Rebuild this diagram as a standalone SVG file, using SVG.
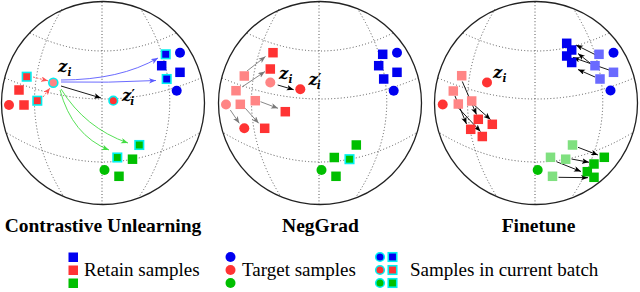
<svg xmlns="http://www.w3.org/2000/svg" xmlns:xlink="http://www.w3.org/1999/xlink" width="640" height="292" viewBox="0 0 640 292">
<style>
.grid{fill:none;stroke:#555;stroke-width:1;stroke-dasharray:1 2.2}
.outline{fill:none;stroke:#222;stroke-width:1.3}
.r{fill:#ff3333}.p{fill:#ff8585}.b{fill:#0000f0}.lb{fill:#6a6aff}.g{fill:#00bf00}.lg{fill:#80e080}
.bt{stroke:#00f0f0;stroke-width:1.6}
.ar{fill:none;stroke-width:0.9}
.k{stroke:#000}.gr{stroke:#7a7a7a}.bl{stroke:#5a5aff}.gn{stroke:#44dd44}.rd{stroke:#ff5555;stroke-dasharray:2 1.5}
.tt{font-family:"Liberation Serif","DejaVu Serif",serif}
.title{font-size:19.5px;font-weight:bold;text-anchor:middle}
.leg{font-size:19px}
.m{font-family:"DejaVu Serif","Liberation Serif",serif;font-style:italic;font-weight:bold;font-size:16.5px}
.s{font-family:"DejaVu Serif","Liberation Serif",serif;font-style:italic;font-weight:bold;font-size:10.5px}
.pr{font-family:"DejaVu Sans","Liberation Sans",sans-serif;font-style:normal;font-weight:bold;font-size:13px}
</style>
<defs>
<marker id="hk" markerUnits="userSpaceOnUse" markerWidth="8" markerHeight="6" refX="7" refY="2.75" orient="auto"><path d="M0,0 L7,2.75 L0,5.5 L1.8,2.75 z" fill="#000"/></marker>
<marker id="hg" markerUnits="userSpaceOnUse" markerWidth="8" markerHeight="6" refX="7" refY="2.75" orient="auto"><path d="M0,0 L7,2.75 L0,5.5 L1.8,2.75 z" fill="#7a7a7a"/></marker>
<marker id="hb" markerUnits="userSpaceOnUse" markerWidth="8" markerHeight="6" refX="7" refY="2.75" orient="auto"><path d="M0,0 L7,2.75 L0,5.5 L1.8,2.75 z" fill="#5a5aff"/></marker>
<marker id="hn" markerUnits="userSpaceOnUse" markerWidth="8" markerHeight="6" refX="7" refY="2.75" orient="auto"><path d="M0,0 L7,2.75 L0,5.5 L1.8,2.75 z" fill="#44dd44"/></marker>
<marker id="hr" markerUnits="userSpaceOnUse" markerWidth="8" markerHeight="6" refX="7" refY="2.75" orient="auto"><path d="M0,0 L7,2.75 L0,5.5 L1.8,2.75 z" fill="#ff5555"/></marker>
<g id="sphere">
<path class="grid" d="M-1,-101 V101"/>
<path class="grid" d="M-41,-94 Q-97,0 -39,94"/>
<path class="grid" d="M37,-95 Q97,0 36,94"/>
<path class="grid" d="M-73,-70 Q0,-34 73,-70"/>
<path class="grid" d="M-98,-25 Q0,17 98,-25"/>
<path class="grid" d="M-96,30 Q0,88 96,30"/>
<circle class="outline" cx="0" cy="0" r="101.5"/>
</g>
</defs>

<use xlink:href="#sphere" transform="translate(103,103)"/>
<use xlink:href="#sphere" transform="translate(320,103)"/>
<use xlink:href="#sphere" transform="translate(536,103)"/>

<g id="connectors">
<path class="ar rd" d="M33,77 L48,80.8" marker-end="url(#hr)"/>
<path class="ar rd" d="M43,97 L50,88" marker-end="url(#hr)"/>
<path class="ar bl" d="M61,80 Q120,80 158,58" marker-end="url(#hb)"/>
<path class="ar bl" d="M61,82 Q108,83 156,80.5" marker-end="url(#hb)"/>
<path class="ar k" d="M61,86 L101,98" marker-end="url(#hk)"/>
<path class="ar gn" d="M60,90 Q72,135 109,150" marker-end="url(#hn)"/>
<path class="ar gn" d="M61,89 Q85,128 128,143" marker-end="url(#hn)"/>
<path class="ar gr" d="M247,71 L265.5,56.5" marker-end="url(#hg)"/>
<path class="ar gr" d="M242,87 L265,71.5" marker-end="url(#hg)"/>
<path class="ar gr" d="M260.5,101.7 L278,108.3" marker-end="url(#hg)"/>
<path class="ar gr" d="M245.3,108.3 L258.7,123.3" marker-end="url(#hg)"/>
<path class="ar gr" d="M230.3,110 L239.3,123.3" marker-end="url(#hg)"/>
<path class="ar k" d="M277.7,85 L293.7,89.7" marker-end="url(#hk)"/>
<path class="ar k" d="M462.3,81.5 L476.5,114.5" marker-end="url(#hk)"/>
<path class="ar k" d="M455,96 L466.5,124" marker-end="url(#hk)"/>
<path class="ar k" d="M457,106.5 L480.5,131.5" marker-end="url(#hk)"/>
<path class="ar k" d="M473,104 L490.5,119.5" marker-end="url(#hk)"/>
<path class="ar k" d="M595,54.5 L576,45" marker-end="url(#hk)"/>
<path class="ar k" d="M590,63 L578,53.5" marker-end="url(#hk)"/>
<path class="ar k" d="M609,70 L573,57.5" marker-end="url(#hk)"/>
<path class="ar k" d="M595,77 L578,69.5" marker-end="url(#hk)"/>
<path class="ar k" d="M578,147.3 L598,155" marker-end="url(#hk)"/>
<path class="ar k" d="M571.5,159 L589,162.3" marker-end="url(#hk)"/>
<path class="ar k" d="M556.5,161.7 L581,171.5" marker-end="url(#hk)"/>
<path class="ar k" d="M558.5,177.3 L588,177.7" marker-end="url(#hk)"/>
</g>

<g id="contrastive-unlearning">
<rect class="r bt" x="22.45" y="72.45" width="8.5" height="8.5"/>
<rect class="r bt" x="33.05" y="96.45" width="8.5" height="8.5"/>
<rect class="r" x="14.25" y="85.25" width="9.5" height="9.5"/>
<rect class="r" x="19.25" y="100.25" width="9.5" height="9.5"/>
<circle class="r" cx="9" cy="105" r="5"/>
<circle class="p bt" cx="53.3" cy="82.7" r="4.5"/>
<circle class="r bt" cx="113.3" cy="100.7" r="4.3"/>
<rect class="b bt" x="161.45" y="50.05" width="8.5" height="8.5"/>
<rect class="b bt" x="162.45" y="74.75" width="8.5" height="8.5"/>
<rect class="b" x="156.95" y="60.95" width="9.5" height="9.5"/>
<rect class="b" x="175.25" y="67.55" width="9.5" height="9.5"/>
<circle class="b" cx="180" cy="52.7" r="5"/>
<circle class="b" cx="176.7" cy="90.7" r="5"/>
<rect class="g bt" x="135.05" y="140.75" width="8.5" height="8.5"/>
<rect class="g bt" x="113.05" y="153.25" width="8.5" height="8.5"/>
<rect class="g" x="127.75" y="154.45" width="9.5" height="9.5"/>
<rect class="g" x="114.25" y="171.55" width="9.5" height="9.5"/>
<circle class="g" cx="104.5" cy="170" r="5"/>
<text class="m" x="58" y="72">z<tspan class="s" dy="4">i</tspan></text>
<text class="m" x="122" y="101">z<tspan class="pr" dy="-3">′</tspan><tspan class="s" dx="-4.5" dy="7">i</tspan></text>
<text class="tt title" x="103" y="232">Contrastive Unlearning</text>
</g>

<g id="neggrad">
<rect class="r" x="268.25" y="47.95" width="9.5" height="9.5"/>
<rect class="r" x="265.55" y="64.25" width="9.5" height="9.5"/>
<rect class="r" x="280.55" y="106.95" width="9.5" height="9.5"/>
<rect class="r" x="259.95" y="123.55" width="9.5" height="9.5"/>
<circle class="r" cx="300.3" cy="89.3" r="5"/>
<circle class="r" cx="244.3" cy="128.3" r="5"/>
<rect class="p" x="239.55" y="71.25" width="9.5" height="9.5"/>
<rect class="p" x="231.25" y="85.95" width="9.5" height="9.5"/>
<rect class="p" x="235.55" y="99.55" width="9.5" height="9.5"/>
<rect class="p" x="250.55" y="95.95" width="9.5" height="9.5"/>
<circle class="p" cx="270.3" cy="82.5" r="5"/>
<circle class="p" cx="226" cy="104.5" r="5"/>
<rect class="b" x="377.95" y="49.55" width="9.5" height="9.5"/>
<rect class="b" x="373.95" y="60.95" width="9.5" height="9.5"/>
<rect class="b" x="378.95" y="74.25" width="9.5" height="9.5"/>
<rect class="b" x="392.25" y="67.55" width="9.5" height="9.5"/>
<circle class="b" cx="397" cy="52.7" r="5"/>
<circle class="b" cx="393.7" cy="90.7" r="5"/>
<rect class="g" x="351.55" y="140.25" width="9.5" height="9.5"/>
<rect class="g" x="329.55" y="152.75" width="9.5" height="9.5"/>
<rect class="g bt" x="345.25" y="154.95" width="8.5" height="8.5"/>
<rect class="g" x="331.25" y="171.55" width="9.5" height="9.5"/>
<circle class="g" cx="321.5" cy="170" r="5"/>
<text class="m" x="279" y="79">z<tspan class="s" dy="4">i</tspan></text>
<text class="m" x="308.5" y="85">z<tspan class="pr" dy="-3">′</tspan><tspan class="s" dx="-4.5" dy="7">i</tspan></text>
<text class="tt title" x="320.5" y="232">NegGrad</text>
</g>

<g id="finetune">
<rect class="p" x="456.95" y="70.95" width="9.5" height="9.5"/>
<rect class="p" x="448.55" y="86.25" width="9.5" height="9.5"/>
<rect class="p" x="453.55" y="99.25" width="9.5" height="9.5"/>
<rect class="p" x="466.95" y="96.25" width="9.5" height="9.5"/>
<circle class="r" cx="442.7" cy="104.5" r="5"/>
<circle class="r" cx="487" cy="82.5" r="5"/>
<rect class="r" x="473.55" y="114.55" width="9.5" height="9.5"/>
<rect class="r" x="487.55" y="119.55" width="9.5" height="9.5"/>
<rect class="r" x="465.95" y="124.55" width="9.5" height="9.5"/>
<rect class="r" x="477.55" y="131.75" width="9.5" height="9.5"/>
<rect class="lb" x="594.25" y="49.55" width="9.5" height="9.5"/>
<rect class="lb" x="590.25" y="60.95" width="9.5" height="9.5"/>
<rect class="lb" x="595.25" y="74.25" width="9.5" height="9.5"/>
<rect class="lb" x="608.75" y="67.55" width="9.5" height="9.5"/>
<rect class="b" x="561.95" y="38.55" width="9.5" height="9.5"/>
<rect class="b" x="566.95" y="45.25" width="9.5" height="9.5"/>
<rect class="b" x="561.95" y="51.25" width="9.5" height="9.5"/>
<rect class="b" x="566.95" y="57.75" width="9.5" height="9.5"/>
<circle class="b" cx="613.5" cy="52.7" r="5"/>
<circle class="b" cx="610.5" cy="90.5" r="5"/>
<rect class="lg" x="567.75" y="140.25" width="9.5" height="9.5"/>
<rect class="lg" x="545.75" y="152.55" width="9.5" height="9.5"/>
<rect class="lg" x="560.95" y="154.45" width="9.5" height="9.5"/>
<rect class="lg" x="547.75" y="171.55" width="9.5" height="9.5"/>
<rect class="g" x="599.55" y="152.55" width="9.5" height="9.5"/>
<rect class="g" x="589.25" y="159.25" width="9.5" height="9.5"/>
<rect class="g" x="582.55" y="166.95" width="9.5" height="9.5"/>
<rect class="g" x="589.25" y="172.55" width="9.5" height="9.5"/>
<circle class="g" cx="537.7" cy="170" r="5"/>
<text class="m" x="493" y="78">z<tspan class="s" dy="4">i</tspan></text>
<text class="tt title" x="538.5" y="232">Finetune</text>
</g>

<g id="legend">
<rect class="b" x="68.5" y="252.5" width="9.5" height="9.5"/>
<rect class="r" x="68.5" y="265.5" width="9.5" height="9.5"/>
<rect class="g" x="68.5" y="278.5" width="9.5" height="9.5"/>
<text class="tt leg" x="84" y="276">Retain samples</text>
<circle class="b" cx="230.5" cy="257" r="5"/>
<circle class="r" cx="230.5" cy="270" r="5"/>
<circle class="g" cx="230.5" cy="283" r="5"/>
<text class="tt leg" x="242" y="276">Target samples</text>
<circle class="b bt" cx="380" cy="257" r="4.3"/>
<circle class="r bt" cx="380" cy="270" r="4.3"/>
<circle class="g bt" cx="380" cy="283" r="4.3"/>
<rect class="b bt" x="388.25" y="252.75" width="8.5" height="8.5"/>
<rect class="r bt" x="388.25" y="265.75" width="8.5" height="8.5"/>
<rect class="g bt" x="388.25" y="278.75" width="8.5" height="8.5"/>
<text class="tt leg" x="410" y="276">Samples in current batch</text>
</g>
</svg>
